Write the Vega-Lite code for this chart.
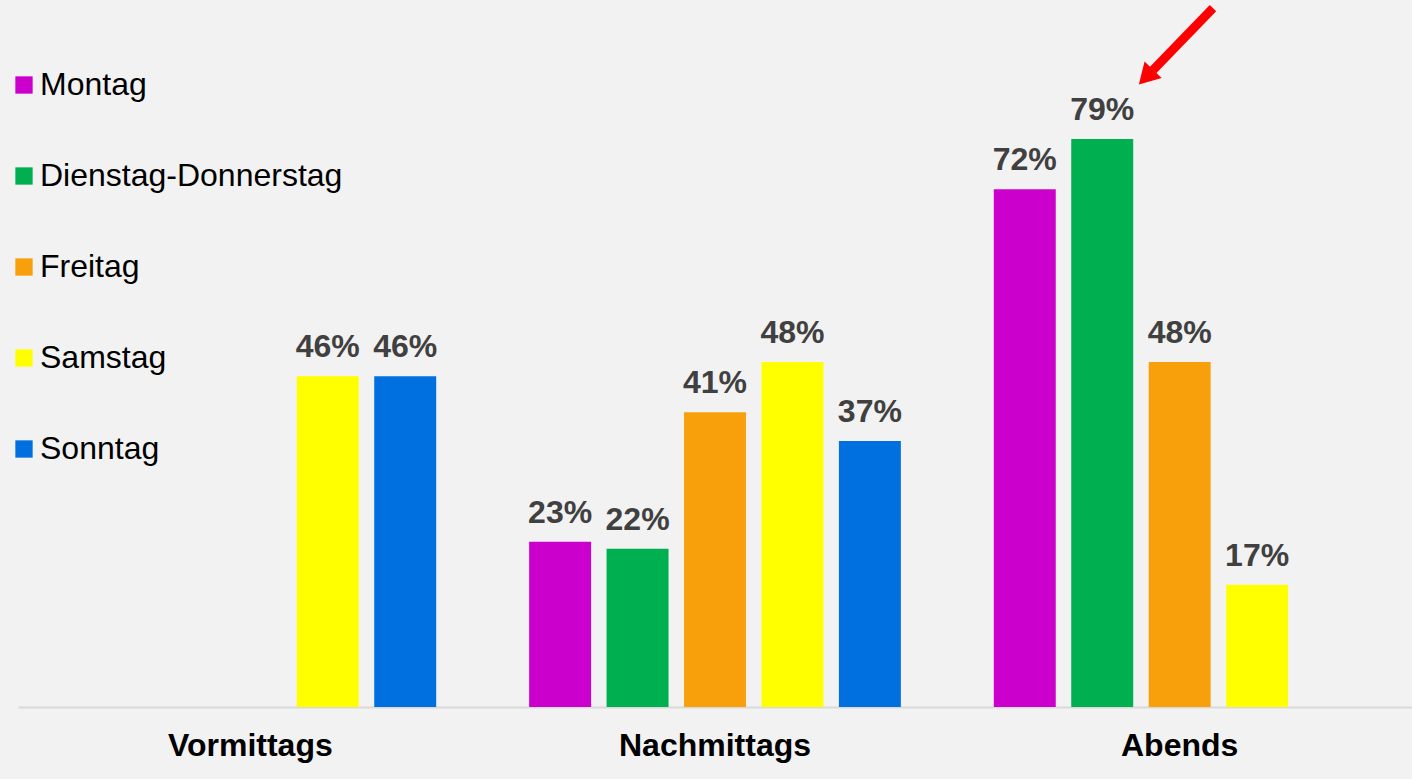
{
  "$schema": "https://vega.github.io/schema/vega-lite/v6.json",
  "width": 1394,
  "height": 707,
  "autosize": {"type": "none"},
  "padding": {"left": 18, "top": 0, "right": 0, "bottom": 72},
  "background": "#f2f2f2",
  "config": {
    "view": {"stroke": null},
    "font": "Liberation Sans"
  },
  "datasets": {
    "bars": [
      {"zeit": "Vormittags", "tag": "Samstag", "v": 0.46},
      {"zeit": "Vormittags", "tag": "Sonntag", "v": 0.46},
      {"zeit": "Nachmittags", "tag": "Montag", "v": 0.23},
      {"zeit": "Nachmittags", "tag": "Dienstag-Donnerstag", "v": 0.22},
      {"zeit": "Nachmittags", "tag": "Freitag", "v": 0.41},
      {"zeit": "Nachmittags", "tag": "Samstag", "v": 0.48},
      {"zeit": "Nachmittags", "tag": "Sonntag", "v": 0.37},
      {"zeit": "Abends", "tag": "Montag", "v": 0.72},
      {"zeit": "Abends", "tag": "Dienstag-Donnerstag", "v": 0.79},
      {"zeit": "Abends", "tag": "Freitag", "v": 0.48},
      {"zeit": "Abends", "tag": "Samstag", "v": 0.17}
    ],
    "arrowShaft": [
      {"x1": 2.5717, "y1": 0.9721, "x2": 2.4426, "y2": 0.8858}
    ],
    "arrowHead": [
      {"x": 2.4275, "y": 0.876}
    ]
  },
  "resolve": {"scale": {"x": "independent"}},
  "layer": [
    {
      "data": {"name": "bars"},
      "layer": [
        {
          "mark": {"type": "bar"},
          "encoding": {
            "x": {
              "field": "zeit", "type": "nominal",
              "sort": ["Vormittags", "Nachmittags", "Abends"],
              "scale": {"paddingInner": 0, "paddingOuter": 0},
              "axis": {
                "title": null, "labelAngle": 0, "ticks": false,
                "labelPadding": 23, "labelFont": "Liberation Sans", "labelLimit": 500,
                "labelFontWeight": "bold", "labelFontSize": 32, "labelColor": "#000000",
                "domainColor": "#d9d9d9", "domainWidth": 2
              }
            },
            "xOffset": {
              "field": "tag", "type": "nominal",
              "scale": {
                "domain": ["Montag", "Dienstag-Donnerstag", "Freitag", "Samstag", "Sonntag"],
                "paddingInner": 0.2, "paddingOuter": 0.6
              }
            },
            "y": {
              "field": "v", "type": "quantitative",
              "scale": {"domain": [0, 0.9833], "nice": false, "zero": true},
              "axis": null
            },
            "color": {
              "field": "tag", "type": "nominal",
              "scale": {
                "domain": ["Montag", "Dienstag-Donnerstag", "Freitag", "Samstag", "Sonntag"],
                "range": ["#cc00cc", "#00b050", "#f8a00c", "#ffff00", "#0070e0"]
              },
              "legend": {
                "title": null, "orient": "none", "legendX": -10, "legendY": 69,
                "direction": "vertical", "padding": 0,
                "symbolType": "square", "symbolSize": 300, "symbolStrokeWidth": 0,
                "labelFont": "Liberation Sans", "labelFontSize": 32, "labelColor": "#000000",
                "labelOffset": 0, "rowPadding": 59, "labelLimit": 500
              }
            }
          }
        },
        {
          "mark": {
            "type": "text", "baseline": "alphabetic", "dy": -19,
            "font": "Liberation Sans", "fontWeight": "bold", "fontSize": 32, "color": "#404040"
          },
          "encoding": {
            "x": {"field": "zeit", "type": "nominal", "sort": ["Vormittags", "Nachmittags", "Abends"]},
            "xOffset": {"field": "tag", "type": "nominal"},
            "y": {"field": "v", "type": "quantitative"},
            "text": {"field": "v", "type": "quantitative", "format": ".0%"}
          }
        }
      ]
    },
    {
      "data": {"name": "arrowShaft"},
      "mark": {"type": "rule", "color": "#ff0000", "strokeWidth": 9},
      "encoding": {
        "x": {"field": "x1", "type": "quantitative", "scale": {"domain": [0, 3], "nice": false, "zero": false}, "axis": null},
        "x2": {"field": "x2"},
        "y": {"field": "y1", "type": "quantitative"},
        "y2": {"field": "y2"}
      }
    },
    {
      "data": {"name": "arrowHead"},
      "mark": {"type": "point", "shape": "triangle-up", "filled": true, "color": "#ff0000", "opacity": 1, "size": 560, "angle": 224, "strokeWidth": 0},
      "encoding": {
        "x": {"field": "x", "type": "quantitative", "scale": {"domain": [0, 3], "nice": false, "zero": false}, "axis": null},
        "y": {"field": "y", "type": "quantitative"}
      }
    }
  ]
}
